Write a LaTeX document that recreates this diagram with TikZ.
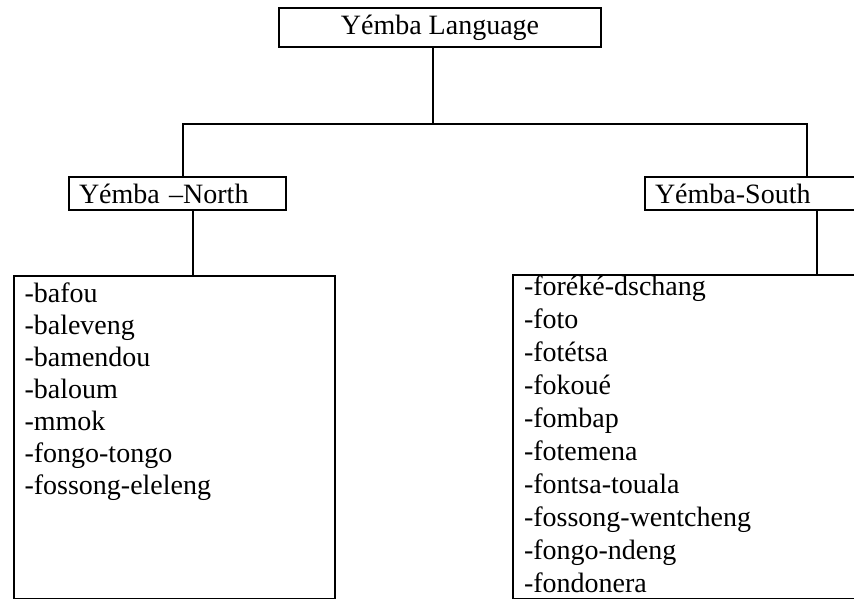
\documentclass[tikz,border=0pt]{standalone}
\usepackage{fontspec}
\setmainfont{Liberation Serif}
\usetikzlibrary{positioning}
\begin{document}
\begin{tikzpicture}[x=1pt,y=-1pt]
\tikzstyle{rootbox} = [rectangle, draw=black, line width=2pt, minimum width=322pt, minimum height=39pt, inner sep=0pt, text centered, anchor=north west, font=\fontsize{28}{33}\selectfont]
\tikzstyle{dialect} = [rectangle, draw=black, line width=2pt, minimum height=33pt, inner xsep=10pt, inner ysep=0pt, align=left, anchor=north west, font=\fontsize{28}{33}\selectfont]
\tikzstyle{listbox} = [rectangle, draw=black, line width=2pt, inner sep=0pt, anchor=north west]
\tikzstyle{line} = [line width=1.6pt]

\useasboundingbox (0,0) rectangle (854,599);
\clip (0,0) rectangle (854,599);

%nodes
\node (lang) [rootbox] at (278,7) {Yémba Language};
\node (north) [dialect, text width=197pt] at (68,176) {Yémba –North};
\node (south) [dialect, text width=216pt] at (644,176) {Yémba-South};
\node (northlist) [listbox, minimum width=321pt, minimum height=323pt, font=\fontsize{28}{32}\selectfont] at (13,275)
  {\parbox[c][311pt][t]{300pt}{\rule{0pt}{20pt}-bafou\\ -baleveng\\ -bamendou\\ -baloum\\ -mmok\\ -fongo-tongo\\ -fossong-eleleng}};
\node (southlist) [listbox, minimum width=368pt, minimum height=324pt, font=\fontsize{28}{33}\selectfont] at (512,274)
  {\parbox[c][324pt][t]{346pt}{\rule{0pt}{20pt}-foréké-dschang\\ -foto\\ -fotétsa\\ -fokoué\\ -fombap\\ -fotemena\\ -fontsa-touala\\ -fossong-wentcheng\\ -fongo-ndeng\\ -fondonera}};

%lines
\draw [line] ([xshift=-7pt]lang.south) -- ++(0,76) coordinate (bus);
\draw [line] ([xshift=5.5pt]north.north) |- (bus) -| ([xshift=44pt]south.north);
\draw [line] ([xshift=15.5pt]north.south) -- ([xshift=15.5pt]north.south |- northlist.north);
\draw [line] ([xshift=54pt]south.south) -- ([xshift=54pt]south.south |- southlist.north);
\end{tikzpicture}
\end{document}
